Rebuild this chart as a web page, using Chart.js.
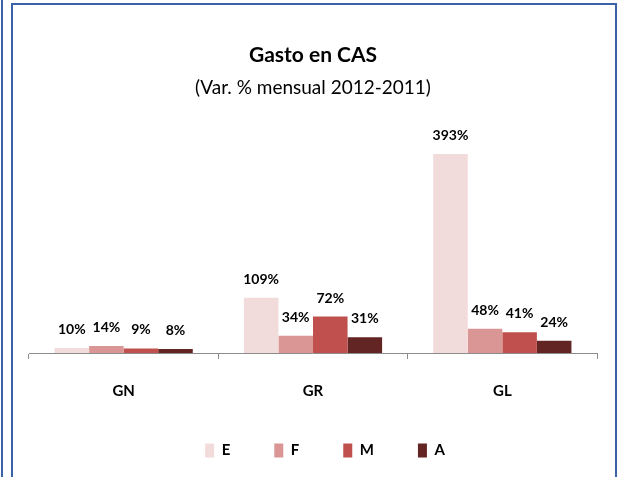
<!DOCTYPE html>
<html>
<head>
<meta charset="utf-8">
<title>Gasto en CAS</title>
<script src="https://cdn.jsdelivr.net/npm/chart.js@4"></script>
<style>
  body { margin: 0; background: #fff; }
  #wrap { position: relative; width: 621px; height: 477px; overflow: hidden; }
  .edge { position: absolute; background: #3a62a7; }
  canvas { position: absolute; left: 0; top: 0; }
</style>
</head>
<body>
<div id="wrap">
  <div class="edge" style="left:1px;top:0;width:2px;height:477px"></div>
  <div class="edge" style="left:11px;top:3px;width:2px;height:474px"></div>
  <div class="edge" style="left:11px;top:3px;width:606px;height:2px"></div>
  <div class="edge" style="left:615px;top:3px;width:2px;height:474px"></div>
  <canvas id="gastoChart" width="621" height="477"></canvas>
</div>
<script>
// data
const categories = ['GN', 'GR', 'GL'];
const seriesNames = ['E', 'F', 'M', 'A'];
const valuesE = [10, 109, 393];
const valuesF = [14, 34, 48];
const valuesM = [9, 72, 41];
const valuesA = [8, 31, 24];
const seriesColors = ['#F2DCDB', '#D99694', '#C0504D', '#632523'];

const fontFamily = "Lato, 'Open Sans', sans-serif";

// value labels above each bar
const barLabels = {
  id: 'barLabels',
  afterDatasetsDraw(chart) {
    const ctx = chart.ctx;
    ctx.save();
    ctx.font = 'bold 14px ' + fontFamily;
    ctx.fillStyle = '#000';
    ctx.textAlign = 'center';
    ctx.textBaseline = 'middle';
    chart.data.datasets.forEach((ds, i) => {
      chart.getDatasetMeta(i).data.forEach((bar, j) => {
        ctx.fillText(ds.data[j] + '%', bar.x, bar.y - 18.5);
      });
    });
    ctx.restore();
  }
};

const allValues = [valuesE, valuesF, valuesM, valuesA];

const ctx = document.getElementById('gastoChart').getContext('2d');
new Chart(ctx, {
  type: 'bar',
  data: {
    labels: categories,
    datasets: seriesNames.map((name, i) => ({
      label: name,
      data: allValues[i],
      backgroundColor: seriesColors[i],
      borderWidth: 0,
      categoryPercentage: 0.73,
      barPercentage: 1.0
    }))
  },
  plugins: [barLabels],
  options: {
    responsive: false,
    animation: false,
    layout: {
      padding: { left: 29, right: 0, top: 33, bottom: 9 }
    },
    plugins: {
      title: {
        display: true,
        fullSize: false,
        text: 'Gasto en CAS',
        color: '#000',
        font: { family: fontFamily, size: 21, weight: 'bold' },
        padding: { top: 10, bottom: 8.4 }
      },
      subtitle: {
        display: true,
        fullSize: false,
        text: '(Var. % mensual 2012-2011)',
        color: '#000',
        font: { family: fontFamily, size: 19, weight: 'normal' },
        padding: { top: 0, bottom: 25.6 }
      },
      legend: {
        position: 'bottom',
        labels: {
          boxWidth: 9,
          boxHeight: 14,
          padding: 44,
          color: '#000',
          font: { family: fontFamily, size: 15, weight: 'bold' }
        }
      },
      tooltip: { enabled: false }
    },
    scales: {
      x: {
        border: { display: true, color: '#8c8c8c', width: 1 },
        grid: {
          display: true,
          drawOnChartArea: false,
          drawTicks: true,
          tickLength: 6,
          color: '#8c8c8c',
          offset: true
        },
        ticks: {
          color: '#000',
          padding: 24.5,
          font: { family: fontFamily, size: 15, weight: 'bold', lineHeight: 1 }
        },
        afterFit: function(s) { s.height = 46; }
      },
      y: {
        position: 'right',
        min: 0,
        max: 450,
        grid: { display: false },
        border: { display: false },
        ticks: { display: false },
        afterFit: function(s) { s.width = 24; }
      }
    }
  }
});
</script>
</body>
</html>
